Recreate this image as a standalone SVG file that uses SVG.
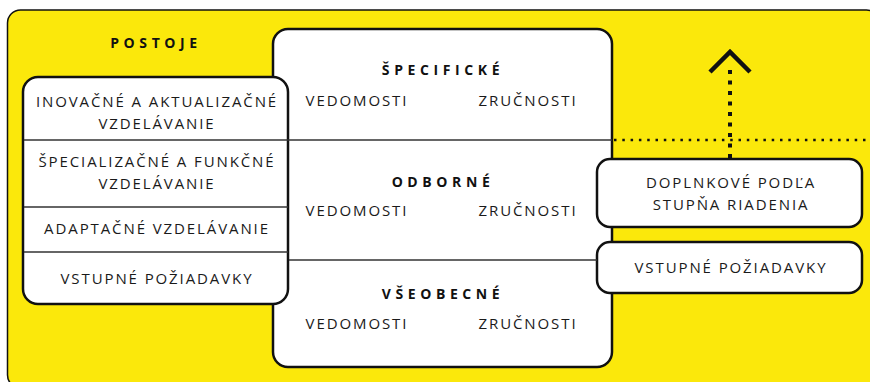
<svg xmlns="http://www.w3.org/2000/svg" width="870" height="382" viewBox="0 0 870 382">
  <style>
    .box { fill: #ffffff; stroke: #111111; stroke-width: 2.5; }
    .rule { stroke: #333333; stroke-width: 1.5; fill: none; }
    .t { font-family: "Open Sans", "Liberation Sans", sans-serif; font-size: 15px; letter-spacing: 1.9px; fill: #1a1a1a; text-anchor: middle; }
    .h { font-family: "Open Sans", "Liberation Sans", sans-serif; font-size: 14px; font-weight: 700; letter-spacing: 4.6px; fill: #111111; text-anchor: middle; }
  </style>

  <!-- yellow background panel -->
  <rect x="7.5" y="10" width="872" height="378" rx="13" fill="#fbe80b" stroke="#111111" stroke-width="1.5"/>
  <text class="h" x="156" y="48">POSTOJE</text>

  <!-- central block: three levels of knowledge and skills -->
  <g id="levels">
    <rect class="box" x="273" y="29" width="339" height="338" rx="15"/>
    <text class="h" x="443" y="75">ŠPECIFICKÉ</text>
    <text class="t" x="357" y="106">VEDOMOSTI</text>
    <text class="t" x="528" y="106">ZRUČNOSTI</text>
    <text class="h" x="443" y="187">ODBORNÉ</text>
    <text class="t" x="357" y="216">VEDOMOSTI</text>
    <text class="t" x="528" y="216">ZRUČNOSTI</text>
    <text class="h" x="443" y="299">VŠEOBECNÉ</text>
    <text class="t" x="357" y="329">VEDOMOSTI</text>
    <text class="t" x="528" y="329">ZRUČNOSTI</text>
  </g>

  <!-- left stack: types of education -->
  <g id="education">
    <rect class="box" x="23" y="77" width="265" height="227" rx="15"/>
    <text class="t" x="157" y="107">INOVAČNÉ A AKTUALIZAČNÉ</text>
    <text class="t" x="157" y="129">VZDELÁVANIE</text>
    <text class="t" x="157" y="167">ŠPECIALIZAČNÉ A FUNKČNÉ</text>
    <text class="t" x="157" y="189">VZDELÁVANIE</text>
    <text class="t" x="157" y="234">ADAPTAČNÉ VZDELÁVANIE</text>
    <text class="t" x="157" y="284">VSTUPNÉ POŽIADAVKY</text>
  </g>

  <!-- right boxes -->
  <g id="supplementary">
    <rect class="box" x="597" y="159" width="265" height="68" rx="13"/>
    <text class="t" x="731" y="188">DOPLNKOVÉ PODĽA</text>
    <text class="t" x="731" y="210">STUPŇA RIADENIA</text>
  </g>
  <g id="entry">
    <rect class="box" x="597" y="242" width="265" height="51" rx="13"/>
    <text class="t" x="731" y="273">VSTUPNÉ POŽIADAVKY</text>
  </g>

  <!-- dividers and connectors -->
  <g id="connectors">
    <line class="rule" x1="24" y1="140" x2="612" y2="140"/>
    <line class="rule" x1="24" y1="207" x2="288" y2="207"/>
    <line class="rule" x1="24" y1="252" x2="288" y2="252"/>
    <line class="rule" x1="289" y1="260" x2="597" y2="260"/>
    <line x1="614" y1="140" x2="870" y2="140" stroke="#111111" stroke-width="2.5" stroke-dasharray="2.5 5.8"/>
    <line x1="730" y1="158" x2="730" y2="64" stroke="#111111" stroke-width="4" stroke-dasharray="4 6.5"/>
    <polyline points="710,72 730,52 750,72" fill="none" stroke="#111111" stroke-width="4.5"/>
  </g>
</svg>
